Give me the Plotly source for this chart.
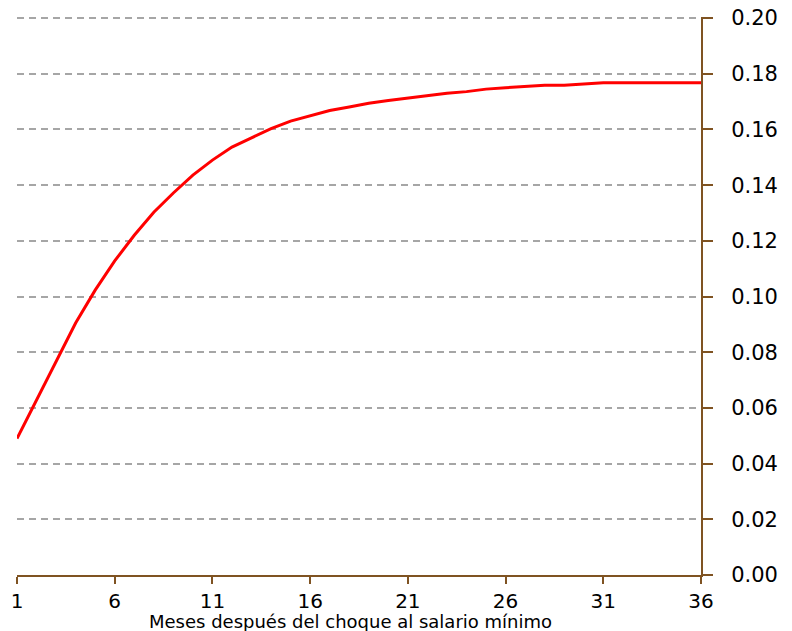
import plotly.graph_objects as go

months = list(range(1, 37))
values = [0.0490, 0.0630, 0.0770, 0.0905, 0.1023, 0.1128, 0.1220, 0.1303, 0.1372,
          0.1436, 0.1490, 0.1537, 0.1570, 0.1603, 0.1630, 0.1650, 0.1668, 0.1681,
          0.1694, 0.1704, 0.1713, 0.1721, 0.1730, 0.1736, 0.1745, 0.1750, 0.1755,
          0.1759, 0.1759, 0.1764, 0.1768, 0.1768, 0.1768, 0.1768, 0.1768, 0.1768]
x_ticks = [1, 6, 11, 16, 21, 26, 31, 36]
y_ticks = [0.00, 0.02, 0.04, 0.06, 0.08, 0.10, 0.12, 0.14, 0.16, 0.18, 0.20]
x_title = "Meses después del choque al salario mínimo"

axis_color = "#7F5322"
grid_color = "#A6A6A6"

fig = go.Figure()
fig.add_trace(go.Scatter(x=months, y=values, mode="lines",
                         line=dict(color="#FF0000", width=3), showlegend=False,
                         cliponaxis=False))

fig.update_layout(
    width=784, height=623,
    margin=dict(l=9, r=91, t=9, b=56),
    plot_bgcolor="white", paper_bgcolor="white",
    font=dict(family="DejaVu Sans", color="black"),
    annotations=[dict(text=x_title, xref="paper", yref="paper", x=0.488, y=-0.083,
                      xanchor="center", yanchor="middle", showarrow=False,
                      font=dict(size=18, color="black"))],
)
fig.update_xaxes(
    range=[1, 36], tickvals=x_ticks, ticktext=[str(v) for v in x_ticks],
    showgrid=False, zeroline=False, automargin=False,
    showline=True, linecolor=axis_color, linewidth=2,
    ticks="outside", ticklen=7, tickwidth=2, tickcolor=axis_color,
    tickfont=dict(size=20),
)
fig.update_yaxes(
    side="right", range=[0, 0.2004], tickvals=y_ticks,
    ticktext=[f"{v:.2f}" for v in y_ticks], automargin=False,
    ticklabeloverflow="allow",
    showgrid=True, gridcolor=grid_color, griddash="7px,5px", gridwidth=1.5,
    zeroline=False,
    showline=True, linecolor=axis_color, linewidth=2,
    ticks="outside", ticklen=10, tickwidth=2, tickcolor=axis_color,
    tickfont=dict(size=21), ticklabelstandoff=14,
)

fig.write_html("out.html")
